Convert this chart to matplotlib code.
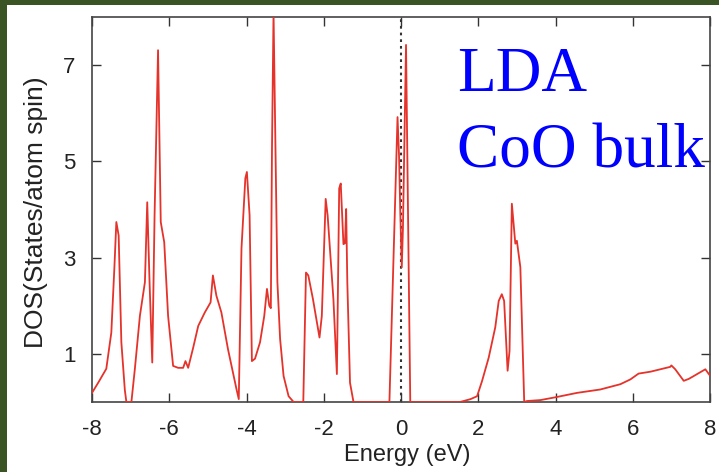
import matplotlib
matplotlib.use("Agg")
import matplotlib.pyplot as plt
from matplotlib.patches import Rectangle

# Total density of states of bulk CoO (LDA), energies relative to E_F
energy = [
    -8.00, -7.84, -7.63, -7.50, -7.42, -7.37, -7.31, -7.24, -7.15, -7.11,
    -6.98, -6.89, -6.76, -6.63, -6.57, -6.51, -6.44, -6.38, -6.29, -6.22,
    -6.13, -6.03, -5.90, -5.77, -5.64, -5.58, -5.51, -5.38, -5.25, -5.08,
    -4.93, -4.87, -4.78, -4.65, -4.48, -4.26, -4.20, -4.13, -4.03, -3.99,
    -3.92, -3.86, -3.78, -3.65, -3.54, -3.47, -3.41, -3.37, -3.34, -3.30,
    -3.25, -3.20, -3.13, -3.04, -2.91, -2.78, -2.53, -2.46, -2.40, -2.28,
    -2.11, -2.05, -1.95, -1.90, -1.75, -1.66, -1.60, -1.56, -1.49, -1.45,
    -1.42, -1.39, -1.32, -1.23, -0.30, -0.09, -0.05, -0.02, 0.02, 0.05,
    0.13, 0.24, 1.53, 1.80, 1.97, 2.10, 2.27, 2.44, 2.53, 2.61,
    2.67, 2.76, 2.81, 2.87, 2.96, 3.00, 3.09, 3.19, 3.26, 3.61,
    4.01, 4.56, 5.16, 5.68, 5.94, 6.15, 6.46, 6.97, 7.00, 7.10,
    7.32, 7.45, 7.58, 7.88, 7.97, 8.00,
]
dos = [
    0.19, 0.40, 0.69, 1.44, 2.80, 3.74, 3.46, 1.24, 0.25, 0.00,
    0.00, 0.69, 1.79, 2.49, 4.15, 2.49, 0.82, 3.88, 7.31, 3.74,
    3.32, 1.79, 0.75, 0.71, 0.71, 0.85, 0.71, 1.13, 1.58, 1.86,
    2.07, 2.63, 2.21, 1.86, 1.10, 0.27, 0.06, 3.19, 4.65, 4.78,
    3.88, 0.85, 0.90, 1.24, 1.79, 2.35, 2.00, 1.95, 5.27, 8.10,
    5.27, 2.49, 1.31, 0.54, 0.12, 0.00, 0.00, 2.69, 2.63, 2.14,
    1.34, 1.79, 4.22, 3.88, 2.14, 0.58, 4.44, 4.54, 3.28, 3.30,
    4.01, 2.49, 0.40, 0.00, 0.00, 5.92, 5.10, 4.00, 2.80, 3.60,
    7.42, 0.00, 0.00, 0.06, 0.12, 0.44, 0.92, 1.55, 2.10, 2.24,
    2.10, 0.65, 1.06, 4.12, 3.29, 3.35, 2.80, 0.00, 0.02, 0.04,
    0.10, 0.19, 0.26, 0.37, 0.47, 0.59, 0.63, 0.73, 0.76, 0.68,
    0.44, 0.48, 0.54, 0.68, 0.58, 0.55,
]

x_ticks = [-8, -6, -4, -2, 0, 2, 4, 6, 8]
y_ticks = [1, 3, 5, 7]
fermi_level = 0.0
title_lines = ["LDA", "CoO bulk"]

plt.rcParams["font.family"] = ["Liberation Sans", "DejaVu Sans"]

fig = plt.figure(figsize=(7.19, 4.72), dpi=100)
fig.patch.set_facecolor("white")

# dark green slide frame along the left and top edges
green = "#3a5423"
fig.patches.append(Rectangle((0, 0), 7 / 719, 1, transform=fig.transFigure,
                             facecolor=green, edgecolor="none", zorder=0))
fig.patches.append(Rectangle((0, 1 - 5 / 472), 1, 5 / 472, transform=fig.transFigure,
                             facecolor=green, edgecolor="none", zorder=0))

ax = fig.add_axes([92 / 719, 1 - 402 / 472, 618 / 719, 385 / 472])

ax.plot(energy, dos, color="#e5322a", lw=1.3, solid_joinstyle="round", zorder=3)
ax.axvline(fermi_level, color="#333333", lw=1.5, linestyle=(0, (1.3, 1.9)), zorder=2)

ax.set_xlim(-8, 8)
ax.set_ylim(0, 8)
ax.set_xticks(x_ticks)
ax.set_yticks(y_ticks)
ax.set_xticklabels([str(t) for t in x_ticks])
ax.set_yticklabels([str(t) for t in y_ticks])

ax.tick_params(direction="in", length=6.5, width=1.0, color="#333333",
               top=True, right=True, labelsize=16, labelcolor="#222222")
ax.tick_params(axis="x", pad=12)
ax.tick_params(axis="y", pad=12)
for sp in ax.spines.values():
    sp.set_color("#444444")
    sp.set_linewidth(1.2)

ax.set_xlabel("Energy (eV)", fontsize=17, color="#222222")
ax.set_ylabel("DOS(States/atom spin)", fontsize=19, color="#222222")
ax.xaxis.set_label_coords(0.51, -0.11)
ax.yaxis.set_label_coords(-0.071, 0.493)

ax.text(1.46, 6.46, title_lines[0], color="#0000ff", fontsize=45.5,
        family=["Liberation Serif", "DejaVu Serif"], va="baseline", ha="left", zorder=4)
ax.text(1.46, 4.875, title_lines[1], color="#0000ff", fontsize=45.5,
        family=["Liberation Serif", "DejaVu Serif"], va="baseline", ha="left", zorder=4)

fig.savefig("out.png", dpi=100, facecolor=fig.get_facecolor())
